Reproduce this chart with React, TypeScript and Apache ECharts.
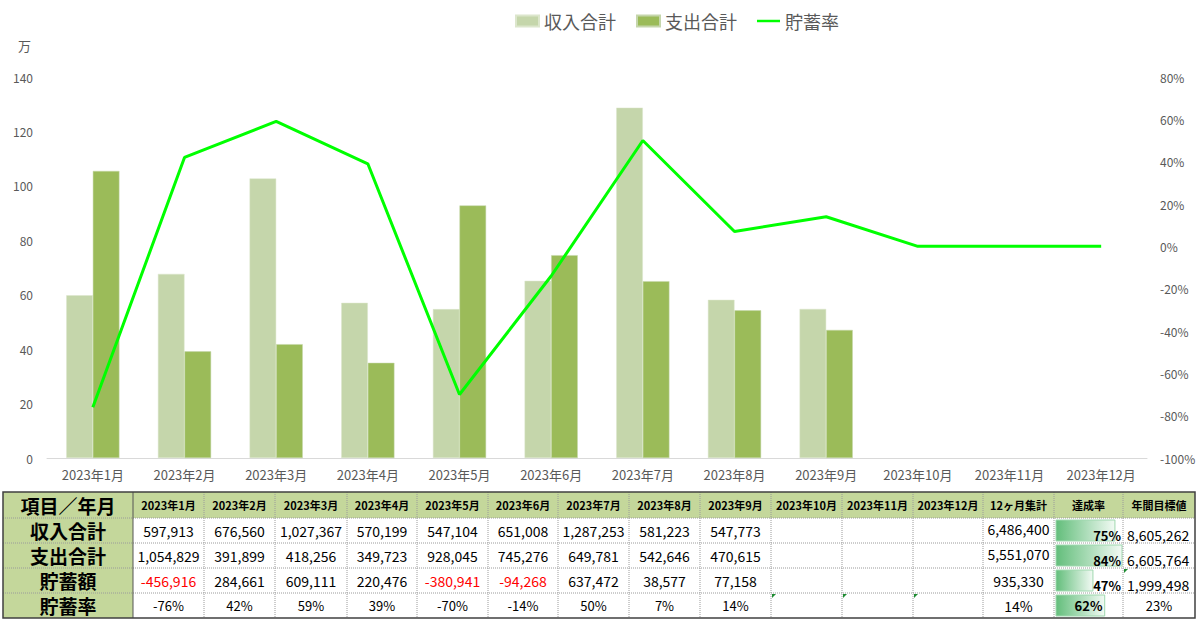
import React, { useEffect, useRef } from "react";
import * as echarts from "echarts";

const months = ["2023年1月","2023年2月","2023年3月","2023年4月","2023年5月","2023年6月","2023年7月","2023年8月","2023年9月","2023年10月","2023年11月","2023年12月"];
const income: (number | null)[] = [597913, 676560, 1027367, 570199, 547104, 651008, 1287253, 581223, 547773, null, null, null];
const expense: (number | null)[] = [1054829, 391899, 418256, 349723, 928045, 745276, 649781, 542646, 470615, null, null, null];
const savings: (number | null)[] = [-456916, 284661, 609111, 220476, -380941, -94268, 637472, 38577, 77158, null, null, null];
const rateTable: (number | null)[] = [-76, 42, 59, 39, -70, -14, 50, 7, 14, null, null, null];
const rateLine: number[] = [-76, 42, 59, 39, -70, -14, 50, 7, 14, 0, 0, 0];
const rowLabels = ["収入合計", "支出合計", "貯蓄額", "貯蓄率"];
const totals = ["6,486,400", "5,551,070", "935,330", "14%"];
const achievement = [75, 84, 47, 62];
const targets = ["8,605,262", "6,605,764", "1,999,498", "23%"];
const leftTicks = [0, 140, 20];
const rightTicks = [-100, 80, 20];

const FONT = "'Noto Sans CJK JP', 'Noto Sans', sans-serif";

function fmt(v: number | null): string {
  if (v === null) return "";
  return v.toLocaleString("en-US");
}

function buildTable(): any[] {
  const els: any[] = [];
  const colX = [3, 133, 204, 275, 347, 417, 488, 558, 629, 700, 771, 842, 913, 983, 1054, 1123, 1195];
  const rowY = [492, 518, 543, 568, 593, 618];
  const headerFill = "#C4D79B";
  els.push({ type: "rect", shape: { x: colX[0], y: rowY[0], width: colX[16] - colX[0], height: rowY[1] - rowY[0] }, style: { fill: headerFill } });
  els.push({ type: "rect", shape: { x: colX[0], y: rowY[1], width: colX[1] - colX[0], height: rowY[5] - rowY[1] }, style: { fill: headerFill } });
  const maxAch = Math.max(...achievement);
  achievement.forEach((a, i) => {
    const w = (a / maxAch) * 66;
    els.push({
      type: "rect",
      shape: { x: colX[14] + 2, y: rowY[i + 1] + 2, width: w, height: rowY[i + 2] - rowY[i + 1] - 4 },
      style: {
        fill: new echarts.graphic.LinearGradient(0, 0, 1, 0, [
          { offset: 0, color: "#63BE7B" },
          { offset: 1, color: "#F2FAF4" },
        ]),
        stroke: "#9ED8AE",
        lineWidth: 1,
      },
    });
  });
  for (let r = 1; r < 5; r++) {
    els.push({ type: "line", shape: { x1: colX[0], y1: rowY[r], x2: colX[16], y2: rowY[r] }, style: { stroke: "#9A9A9A", lineWidth: 1, lineDash: [1, 1] } });
  }
  for (let c = 2; c < 16; c++) {
    els.push({ type: "line", shape: { x1: colX[c], y1: rowY[0], x2: colX[c], y2: rowY[5] }, style: { stroke: "#9A9A9A", lineWidth: 1, lineDash: [1, 1] } });
  }
  els.push({ type: "line", shape: { x1: colX[1], y1: rowY[0], x2: colX[1], y2: rowY[5] }, style: { stroke: "#555", lineWidth: 1 } });
  els.push({ type: "rect", shape: { x: colX[0], y: rowY[0], width: colX[16] - colX[0], height: rowY[5] - rowY[0] }, style: { fill: "none", stroke: "#404040", lineWidth: 1.5 } });

  const cx = (c: number) => (colX[c] + colX[c + 1]) / 2;
  const cy = (r: number) => (rowY[r] + rowY[r + 1]) / 2;
  const txt = (text: string, x: number, y: number, opts: any = {}) => {
    els.push({
      type: "text",
      style: {
        text, x, y,
        fill: opts.fill || "#000",
        fontSize: opts.fontSize || 14,
        fontWeight: opts.fontWeight || "normal",
        fontFamily: FONT,
        align: opts.align || "center",
        verticalAlign: opts.verticalAlign || "middle",
      },
    });
  };
  txt("項目／年月", cx(0), cy(0), { fontSize: 19, fontWeight: "bold" });
  months.forEach((m, i) => txt(m, cx(i + 1), cy(0), { fontSize: 11, fontWeight: "bold" }));
  txt("12ヶ月集計", cx(13), cy(0), { fontSize: 11, fontWeight: "bold" });
  txt("達成率", cx(14), cy(0), { fontSize: 11, fontWeight: "bold" });
  txt("年間目標値", cx(15), cy(0), { fontSize: 11, fontWeight: "bold" });
  rowLabels.forEach((l, r) => txt(l, cx(0), cy(r + 1), { fontSize: 19, fontWeight: "bold" }));
  const rows = [income, expense, savings];
  rows.forEach((arr, r) => {
    arr.forEach((v, i) => {
      if (v === null) return;
      txt(fmt(v), cx(i + 1), cy(r + 1), { fill: v < 0 ? "#FF0000" : "#000", fontSize: 14 });
    });
  });
  rateTable.forEach((v, i) => {
    if (v === null) return;
    txt(v + "%", cx(i + 1), cy(4), { fontSize: 13 });
  });
  totals.forEach((t, r) => txt(t, cx(13), cy(r + 1) - (r < 2 ? 2 : 0), { fontSize: 14 }));
  achievement.forEach((a, r) => {
    if (r < 3) txt(a + "%", colX[15] - 2, rowY[r + 2] - 1, { fontSize: 13, fontWeight: "bold", align: "right", verticalAlign: "bottom" });
    else txt(a + "%", cx(14), cy(r + 1), { fontSize: 13, fontWeight: "bold" });
  });
  targets.forEach((t, r) => {
    if (r < 3) txt(t, colX[15] + 4, rowY[r + 2] - 1, { fontSize: 14, align: "left", verticalAlign: "bottom" });
    else txt(t, cx(15), cy(r + 1), { fontSize: 13 });
  });
  const tri = (x: number, y: number) =>
    els.push({ type: "polygon", shape: { points: [[x + 1, y + 1], [x + 5, y + 1], [x + 1, y + 5]] }, style: { fill: "#1E8C32" } });
  tri(colX[10], rowY[4]);
  tri(colX[11], rowY[4]);
  tri(colX[12], rowY[4]);
  tri(colX[15], rowY[3]);
  return els;
}

export default function App() {
  const ref = useRef<HTMLDivElement>(null);
  useEffect(() => {
    if (!ref.current) return;
    const chart = echarts.init(ref.current, null, { renderer: "svg" });
    const toMan = (arr: (number | null)[]) => arr.map((v) => (v === null ? null : v / 10000));
    chart.setOption({
      animation: false,
      backgroundColor: "#fff",
      textStyle: { fontFamily: FONT },
      legend: {
        left: 510,
        top: 7,
        itemWidth: 23,
        itemHeight: 11,
        itemGap: 20,
        textStyle: { fontSize: 18, color: "#595959", fontFamily: FONT },
        data: [
          { name: "収入合計", icon: "rect" },
          { name: "支出合計", icon: "rect" },
          { name: "貯蓄率", icon: "path://M0,0 L28,0 L28,3 L0,3 Z", itemStyle: { color: "#00FF00" } },
        ],
      },
      grid: { left: 47, right: 53, top: 77, bottom: 172, containLabel: false },
      xAxis: {
        type: "category",
        data: months,
        axisTick: { show: false },
        axisLine: { lineStyle: { color: "#D9D9D9" } },
        axisLabel: { color: "#595959", fontSize: 13, margin: 10, interval: 0 },
      },
      yAxis: [
        {
          type: "value",
          min: leftTicks[0],
          max: leftTicks[1],
          interval: leftTicks[2],
          splitLine: { show: false },
          axisLine: { show: false },
          axisLabel: { color: "#595959", fontSize: 12, margin: 14 },
        },
        {
          type: "value",
          min: rightTicks[0],
          max: rightTicks[1],
          interval: rightTicks[2],
          splitLine: { show: false },
          axisLine: { show: false },
          axisLabel: { color: "#595959", fontSize: 12, margin: 13, formatter: (v: number) => v + "%" },
        },
      ],
      series: [
        {
          name: "収入合計",
          type: "bar",
          data: toMan(income),
          barWidth: "29%",
          barGap: "0%",
          itemStyle: { color: "#C5D6AB", borderColor: "#DCE6CC", borderWidth: 0.5 },
        },
        {
          name: "支出合計",
          type: "bar",
          data: toMan(expense),
          barWidth: "29%",
          itemStyle: { color: "#9BBB59", borderColor: "#C5D6AB", borderWidth: 0.5 },
        },
        {
          name: "貯蓄率",
          type: "line",
          yAxisIndex: 1,
          data: rateLine,
          symbol: "none",
          lineStyle: { color: "#00FF00", width: 3 },
          itemStyle: { color: "#00FF00" },
          z: 5,
        },
      ],
      graphic: [
        { type: "text", style: { text: "万", x: 18, y: 39, fill: "#595959", fontSize: 13, fontFamily: FONT } },
        ...buildTable(),
      ],
    });
    return () => chart.dispose();
  }, []);
  return <div ref={ref} style={{ position: "fixed", left: 0, top: 0, width: 1200, height: 630 }} />;
}
